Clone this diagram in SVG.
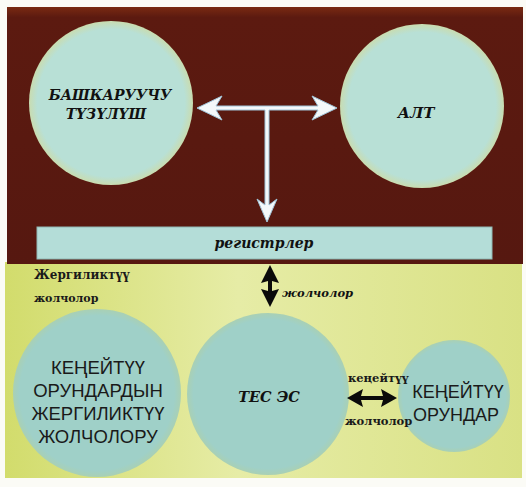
<svg xmlns="http://www.w3.org/2000/svg" width="526" height="487" viewBox="0 0 526 487">
<defs>
<linearGradient id="yel" x1="0" y1="0" x2="1" y2="0">
<stop offset="0" stop-color="#d2dc6c"/>
<stop offset="0.45" stop-color="#e6eca6"/>
<stop offset="1" stop-color="#d9e184"/>
</linearGradient>
<linearGradient id="brn" x1="0" y1="0" x2="0" y2="1">
<stop offset="0" stop-color="#7a2a12"/>
<stop offset="0.04" stop-color="#5c1a10"/>
<stop offset="1" stop-color="#561810"/>
</linearGradient>
<radialGradient id="topc" cx="0.5" cy="0.5" r="0.5">
<stop offset="0.9" stop-color="#b8e0d6"/>
<stop offset="1" stop-color="#c9dcb0"/>
</radialGradient>
<radialGradient id="botc" cx="0.5" cy="0.5" r="0.5">
<stop offset="0.92" stop-color="#9fd0c8"/>
<stop offset="1" stop-color="#a9d0b4"/>
</radialGradient>
</defs>
<style>
.tl{font-family:"DejaVu Serif","Liberation Serif",serif;font-weight:bold;font-style:italic;fill:#111;text-anchor:middle}
.bl{font-family:"Liberation Sans","DejaVu Sans",sans-serif;fill:#1a1a1a;text-anchor:middle}
.sm{font-family:"DejaVu Serif","Liberation Serif",serif;font-weight:bold;fill:#1a1a1a}
.wa{fill:#f4f8fa;stroke:#9fc4d8;stroke-width:1}
.ba{fill:#0a0a0a}
</style>
<rect width="526" height="487" fill="#fbfbf6"/>
<rect x="5" y="262" width="517" height="216" fill="url(#yel)"/>
<rect x="7" y="7" width="516" height="257" fill="url(#brn)"/>
<g id="node-bashkaruuchu">
<circle cx="111" cy="103" r="82" fill="url(#topc)"/>
<text class="tl" x="110" y="100" font-size="14">БАШКАРУУЧУ</text>
<text class="tl" x="106" y="119" font-size="14">ТҮЗҮЛҮШ</text>
</g>
<g id="node-alt">
<circle cx="422" cy="106" r="82" fill="url(#topc)"/>
<text class="tl" x="416" y="118" font-size="15">АЛТ</text>
</g>
<g id="node-registrler">
<rect x="37" y="227" width="455" height="32" fill="#b4ddd8" stroke="#8fb8b4" stroke-width="1"/>
<text class="tl" x="264" y="248" font-size="14">регистрлер</text>
</g>
<g id="label-local">
<text class="sm" x="34" y="279" font-size="12">Жергиликтүү</text>
<text class="sm" x="34" y="302" font-size="11">жолчолор</text>
</g>
<g id="node-ext-local">
<circle cx="97" cy="393" r="84" fill="url(#botc)"/>
<text class="bl" x="98" y="374" font-size="18.5">КЕҢЕЙТҮҮ</text>
<text class="bl" x="98" y="397" font-size="18.5">ОРУНДАРДЫН</text>
<text class="bl" x="98" y="420" font-size="18.5">ЖЕРГИЛИКТҮҮ</text>
<text class="bl" x="98" y="443" font-size="18.5">ЖОЛЧОЛОРУ</text>
</g>
<g id="node-tes">
<circle cx="268" cy="394" r="81" fill="url(#botc)"/>
<text class="tl" x="269" y="402" font-size="14.5">ТЕС  ЭС</text>
</g>
<g id="node-ext">
<circle cx="454" cy="396" r="56" fill="url(#botc)"/>
<text class="bl" x="458" y="398" font-size="18">КЕҢЕЙТҮҮ</text>
<text class="bl" x="456" y="421" font-size="18">ОРУНДАР</text>
</g>
<g id="connectors">
<polygon class="wa" points="197,108 222,96 216,106 318,106 312,96 337,108 312,120 318,110 269,110 269,205 277,199 267,222 257,199 265,205 265,110 216,110 222,120"/>
<polygon class="ba" points="270,265 279,283 272,281 272,291 279,289 270,307 261,289 268,291 268,281 261,283"/>
<polygon class="ba" points="347,398 363,389 361,396 383,396 381,389 397,398 381,407 383,400 361,400 363,407"/>
<text class="tl" x="282" y="297" font-size="11.5" style="text-anchor:start">жолчолор</text>
<text class="sm" x="348" y="382" font-size="11.5">кеңейтүү</text>
<text class="sm" x="345" y="425" font-size="11.5">жолчолор</text>
</g>
</svg>
